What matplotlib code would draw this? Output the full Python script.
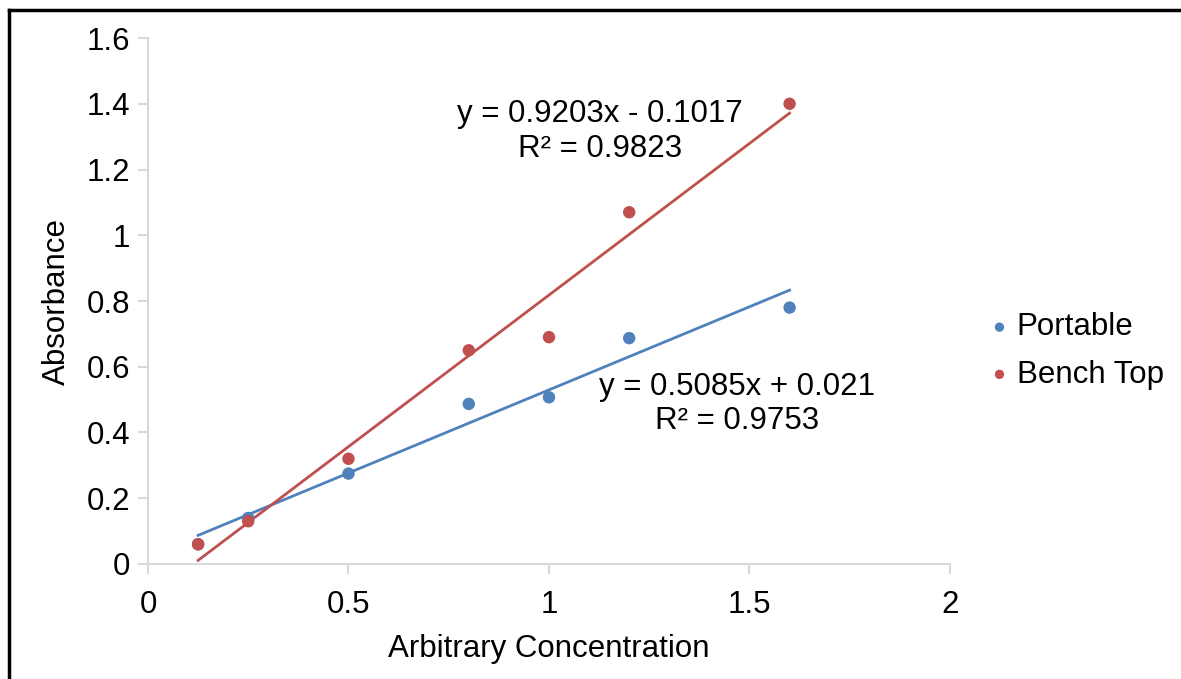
import numpy as np
import matplotlib.pyplot as plt
from matplotlib.lines import Line2D

plt.rcParams["font.family"] = ["Liberation Sans", "DejaVu Sans"]

# concentrations and absorbance readings
conc = [0.125, 0.25, 0.5, 0.8, 1.0, 1.2, 1.6]
portable = [0.06, 0.14, 0.275, 0.487, 0.507, 0.687, 0.78]
bench_top = [0.06, 0.13, 0.32, 0.65, 0.69, 1.07, 1.40]

eq_portable = ["y = 0.5085x + 0.021", "R² = 0.9753"]
eq_bench = ["y = 0.9203x - 0.1017", "R² = 0.9823"]

BLUE = "#4f81bd"
RED = "#c0504d"
GREY = "#d9d9d9"
FS = 22.5

fig = plt.figure(figsize=(11.81, 6.79), dpi=100)
ax = fig.add_axes([0.1253, 0.1694, 0.6791, 0.7746])

x = np.array(conc)
xs = np.array([x.min(), x.max()])
for ys, col, lab in [(portable, BLUE, "Portable"), (bench_top, RED, "Bench Top")]:
    m, b = np.polyfit(x, ys, 1)
    ax.scatter(x, ys, s=80, color=col, zorder=3, label=lab, edgecolors="none")
    ax.plot(xs, m * xs + b, color=col, lw=2, zorder=2)

ax.set_xlim(0, 2)
ax.set_ylim(0, 1.6)
ax.set_xticks([0, 0.5, 1, 1.5, 2])
ax.set_xticklabels(["0", "0.5", "1", "1.5", "2"])
ax.set_yticks(np.arange(0, 1.61, 0.2))
ax.set_yticklabels(["0", "0.2", "0.4", "0.6", "0.8", "1", "1.2", "1.4", "1.6"])

for s in ["top", "right"]:
    ax.spines[s].set_visible(False)
for s in ["left", "bottom"]:
    ax.spines[s].set_color(GREY)
    ax.spines[s].set_linewidth(1.5)
ax.tick_params(colors=GREY, labelcolor="black", labelsize=FS, length=7, width=1.5)
ax.tick_params(axis="y", pad=6)
ax.tick_params(axis="x", pad=12)

ax.set_xlabel("Arbitrary Concentration", fontsize=FS, labelpad=10)
ax.set_ylabel("Absorbance", fontsize=FS, labelpad=10)

ax.text(1.127, 1.316, "\n".join(eq_bench), fontsize=FS, ha="center", va="center",
        linespacing=1.2)
ax.text(1.469, 0.487, "\n".join(eq_portable), fontsize=FS, ha="center", va="center",
        linespacing=1.2)

ax.legend(loc="center left", bbox_to_anchor=(1.05, 0.405), frameon=False, fontsize=FS,
          handlelength=0.6, handletextpad=0.25, markerscale=0.75, labelspacing=0.55,
          borderpad=0, borderaxespad=0)

# frame of the original picture (left and top only)
fig.add_artist(Line2D([0.0075, 0.0075], [0, 0.986], transform=fig.transFigure, color="black", lw=2.5))
fig.add_artist(Line2D([0.0075, 1], [0.986, 0.986], transform=fig.transFigure, color="black", lw=2.5))

fig.savefig("out.png", dpi=100)
